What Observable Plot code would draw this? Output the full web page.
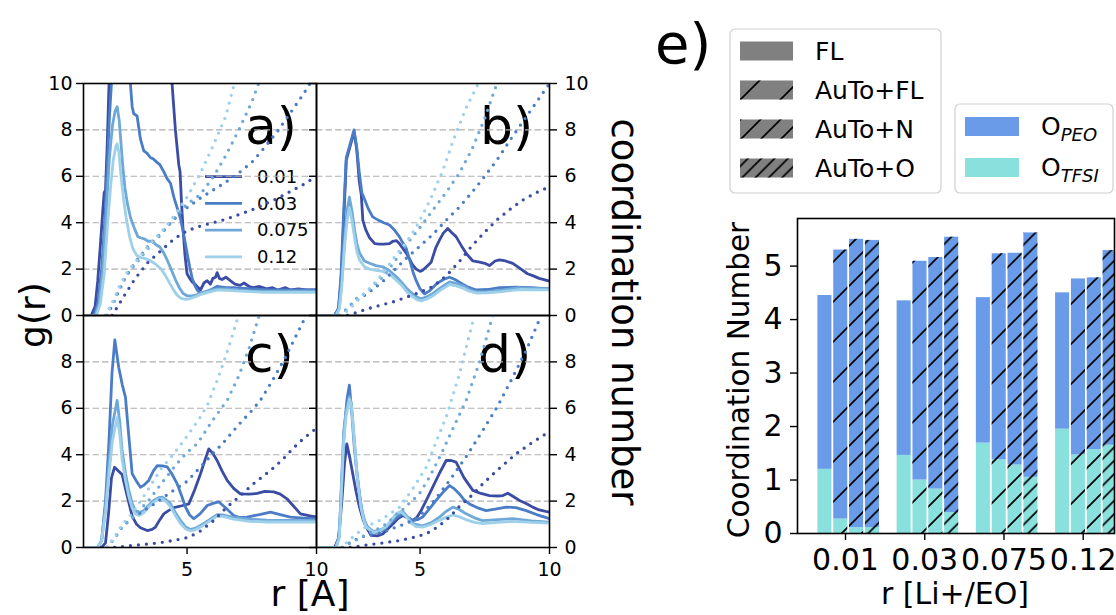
<!DOCTYPE html>
<html><head><meta charset="utf-8">
<script src="https://cdn.jsdelivr.net/npm/d3@7"></script>
<script src="https://cdn.jsdelivr.net/npm/@observablehq/plot@0.6"></script>
<style>
html,body{margin:0;padding:0;background:#fff;}
#root{position:relative;width:1116px;height:615px;overflow:hidden;font-family:"DejaVu Sans",sans-serif;}
</style></head><body><div id="root"></div>
<script>
// ---------- data ----------
const concs = ["0.01", "0.03", "0.075", "0.12"];

// g(r) curves, [r, g] pairs, one list per concentration
const gA = [
  [[1,0],[1.3,0],[1.45,0.4],[1.55,1.5],[1.65,3],[1.75,4.6],[1.8,5.3],[1.85,5.4],[1.92,7.5],[2.0,10.5],[2.1,14],[4.3,14],[4.42,10],[4.55,8],[4.68,6.5],[4.73,6.2],[4.78,5],[4.84,3.8],[4.92,2.6],[5.0,1.8],[5.1,1.6],[5.2,1.45],[5.35,1.3],[5.52,1.1],[5.65,1.4],[5.78,1.5],[5.9,1.35],[6.0,1.6],[6.1,1.65],[6.16,1.85],[6.25,1.6],[6.35,1.55],[6.5,1.65],[6.67,1.5],[6.85,1.35],[7.05,1.3],[7.2,1.4],[7.4,1.25],[7.56,1.2],[7.8,1.25],[8.08,1.15],[8.3,1.2],[8.5,1.1],[8.8,1.2],[9.0,1.1],[9.3,1.15],[9.6,1.1],[10,1.1]],
  [[1,0],[1.4,0],[1.55,0.5],[1.7,2],[1.82,4],[1.92,6.5],[2.0,8.5],[2.08,10],[2.15,12],[2.7,12],[2.81,10],[2.88,9.0],[2.94,8.7],[3.07,8.6],[3.2,7.6],[3.33,7.1],[3.45,7.0],[3.59,6.8],[3.7,6.75],[3.84,6.6],[3.95,6.5],[4.1,6.2],[4.23,5.9],[4.36,5.7],[4.49,5.1],[4.6,4.7],[4.74,4.2],[4.87,3.5],[5.0,2.7],[5.1,2.1],[5.2,1.6],[5.3,1.3],[5.39,1.1],[5.52,0.95],[5.64,0.95],[5.9,1.1],[6.16,1.25],[6.5,1.2],[6.8,1.2],[7.5,1.15],[8.09,1.1],[9,1.1],[10,1.1]],
  [[1,0],[1.45,0],[1.6,0.5],[1.75,2],[1.88,4.5],[2.0,6.8],[2.12,8.2],[2.22,8.8],[2.3,9.0],[2.38,8.4],[2.45,7.4],[2.52,6.4],[2.6,5.5],[2.7,4.8],[2.82,4.2],[2.95,3.8],[3.1,3.4],[3.2,3.35],[3.35,3.3],[3.5,3.2],[3.65,3.2],[3.8,3.05],[3.95,2.95],[4.1,2.7],[4.25,2.35],[4.4,1.95],[4.55,1.55],[4.7,1.2],[4.85,0.95],[5.0,0.85],[5.2,0.85],[5.4,0.9],[5.6,1.0],[5.9,1.1],[6.2,1.15],[6.6,1.15],[7,1.1],[7.5,1.05],[8,1.05],[9,1.05],[10,1.05]],
  [[1,0],[1.5,0],[1.65,0.5],[1.8,1.8],[1.92,3.8],[2.05,5.6],[2.15,6.7],[2.25,7.3],[2.3,7.4],[2.37,7.0],[2.45,6.0],[2.55,5.0],[2.65,4.2],[2.78,3.4],[2.9,2.9],[3.05,2.6],[3.2,2.5],[3.4,2.45],[3.6,2.35],[3.8,2.2],[4.0,2.0],[4.15,1.75],[4.3,1.45],[4.45,1.15],[4.6,0.9],[4.75,0.75],[4.9,0.7],[5.1,0.72],[5.3,0.8],[5.5,0.9],[5.8,1.0],[6.2,1.1],[6.6,1.08],[7,1.05],[8,1.0],[9,1.0],[10,1.0]]
];
const gB = [
  [[1,0],[1.7,0],[1.85,0.3],[1.95,1.5],[2.05,4],[2.15,6.7],[2.3,7.3],[2.45,7.9],[2.55,7.2],[2.65,5.8],[2.73,5.2],[2.79,4.1],[2.9,3.7],[3.05,3.35],[3.25,3.1],[3.43,3.08],[3.6,3.08],[3.82,3.1],[3.95,3.2],[4.08,3.23],[4.2,3.1],[4.33,2.9],[4.46,2.7],[4.59,2.45],[4.7,2.2],[4.85,2.0],[5.0,1.9],[5.1,1.95],[5.25,2.1],[5.43,2.3],[5.6,2.9],[5.75,3.25],[5.9,3.55],[6.07,3.75],[6.2,3.6],[6.39,3.4],[6.6,3.0],[6.8,2.65],[7.04,2.35],[7.3,2.3],[7.5,2.25],[7.68,2.15],[7.9,2.35],[8.07,2.4],[8.3,2.35],[8.58,2.25],[8.9,2.0],[9.15,1.8],[9.35,1.72],[9.6,1.6],[10,1.48]],
  [[1,0],[1.7,0],[1.85,0.3],[1.95,1.8],[2.05,4.5],[2.15,6.8],[2.3,7.4],[2.45,8.0],[2.55,7.3],[2.65,6.2],[2.75,5.3],[2.86,5.0],[3.0,4.6],[3.17,4.25],[3.4,4.1],[3.6,4.0],[3.82,3.9],[4.0,3.7],[4.2,3.4],[4.35,3.1],[4.46,2.9],[4.6,2.4],[4.72,1.9],[4.85,1.5],[5.0,1.15],[5.17,0.93],[5.35,1.05],[5.62,1.35],[5.9,1.55],[6.14,1.65],[6.35,1.55],[6.52,1.44],[6.8,1.25],[7.17,1.1],[7.6,1.12],[8.07,1.2],[8.71,1.22],[9.3,1.2],[10,1.15]],
  [[1,0],[1.75,0],[1.88,0.3],[1.98,1.5],[2.08,3.2],[2.18,4.5],[2.27,5.1],[2.37,4.5],[2.47,3.7],[2.56,3.1],[2.66,2.7],[2.85,2.35],[3.05,2.25],[3.3,2.15],[3.56,2.1],[3.8,1.95],[3.95,1.8],[4.15,1.6],[4.33,1.37],[4.5,1.15],[4.72,0.93],[4.9,0.78],[5.04,0.72],[5.25,0.8],[5.5,0.95],[5.8,1.2],[6.14,1.45],[6.4,1.38],[6.66,1.28],[6.9,1.12],[7.17,1.02],[7.6,1.03],[8.07,1.08],[8.84,1.2],[10,1.15]],
  [[1,0],[1.75,0],[1.88,0.3],[1.98,1.3],[2.08,2.9],[2.18,4.1],[2.27,4.65],[2.37,4.1],[2.47,3.35],[2.56,2.75],[2.66,2.4],[2.85,2.1],[3.05,2.0],[3.3,1.95],[3.56,1.9],[3.8,1.78],[3.95,1.65],[4.15,1.45],[4.33,1.25],[4.5,1.0],[4.72,0.8],[4.9,0.67],[5.04,0.63],[5.25,0.7],[5.5,0.85],[5.8,1.1],[6.14,1.33],[6.4,1.28],[6.66,1.18],[6.9,1.05],[7.17,0.97],[7.6,0.98],[8.07,1.02],[8.84,1.12],[10,1.1]]
];
const gC = [
  [[1,0],[1.7,0],[1.85,0.2],[1.97,1.5],[2.08,3.0],[2.2,3.46],[2.35,3.3],[2.49,3.15],[2.65,2.4],[2.88,1.35],[3.05,1.0],[3.2,0.85],[3.46,0.73],[3.65,0.78],[3.78,0.88],[3.95,1.2],[4.1,1.45],[4.3,1.6],[4.49,1.72],[4.8,1.8],[5.07,1.88],[5.3,2.5],[5.52,3.18],[5.7,3.8],[5.84,4.25],[6.0,4.05],[6.16,3.75],[6.35,3.3],[6.55,2.89],[6.8,2.55],[7.06,2.31],[7.4,2.3],[7.71,2.33],[8.0,2.42],[8.35,2.4],[8.6,2.3],[8.86,2.1],[9.1,1.8],[9.38,1.45],[9.7,1.37],[10,1.31]],
  [[1,0],[1.55,0],[1.7,0.3],[1.85,2.0],[1.98,4.5],[2.1,7.5],[2.21,8.95],[2.36,7.77],[2.5,7.0],[2.62,6.48],[2.75,4.8],[2.88,3.18],[3.05,2.85],[3.2,2.6],[3.35,2.7],[3.52,2.89],[3.7,3.3],[3.85,3.53],[4.05,3.52],[4.23,3.48],[4.4,3.2],[4.62,2.74],[4.8,2.2],[4.94,1.74],[5.1,1.4],[5.26,1.24],[5.5,1.45],[5.78,1.81],[6.0,1.9],[6.22,1.97],[6.5,1.7],[6.8,1.38],[7.0,1.3],[7.32,1.31],[7.8,1.42],[8.22,1.52],[8.6,1.42],[8.99,1.31],[9.5,1.27],[10,1.24]],
  [[1,0],[1.55,0],[1.7,0.3],[1.85,1.8],[1.98,3.6],[2.12,5.3],[2.3,6.34],[2.4,5.4],[2.49,4.18],[2.62,3.2],[2.75,2.46],[2.88,1.9],[3.0,1.59],[3.15,1.5],[3.33,1.59],[3.5,1.8],[3.71,2.03],[3.9,2.15],[4.04,2.17],[4.2,2.05],[4.36,1.88],[4.55,1.5],[4.75,1.16],[4.95,0.88],[5.13,0.78],[5.3,0.82],[5.52,0.95],[5.8,1.15],[6.16,1.42],[6.4,1.4],[6.8,1.3],[7.4,1.22],[8.09,1.18],[9,1.17],[10,1.16]],
  [[1,0],[1.55,0],[1.7,0.3],[1.85,1.5],[1.98,3.1],[2.12,4.6],[2.3,5.6],[2.4,4.9],[2.49,3.8],[2.62,2.9],[2.75,2.2],[2.88,1.7],[3.0,1.45],[3.15,1.38],[3.33,1.5],[3.5,1.72],[3.71,1.95],[3.9,2.08],[4.04,2.1],[4.2,1.97],[4.36,1.75],[4.55,1.38],[4.75,1.02],[4.95,0.8],[5.13,0.72],[5.3,0.76],[5.52,0.88],[5.8,1.08],[6.16,1.35],[6.4,1.33],[6.8,1.22],[7.4,1.13],[8.09,1.1],[9,1.1],[10,1.1]]
];
const gD = [
  [[1,0],[1.7,0],[1.85,0.4],[1.98,2.0],[2.08,3.6],[2.17,4.47],[2.28,3.9],[2.4,3.18],[2.53,2.4],[2.66,1.74],[2.8,1.2],[2.92,0.88],[3.11,0.52],[3.35,0.5],[3.56,0.58],[3.75,0.8],[3.95,1.01],[4.15,1.25],[4.33,1.38],[4.5,1.3],[4.72,1.16],[4.88,1.3],[5.04,1.59],[5.25,2.05],[5.49,2.6],[5.75,3.2],[6.01,3.75],[6.2,3.75],[6.39,3.68],[6.7,3.0],[7.04,2.46],[7.35,2.33],[7.68,2.24],[8.0,2.22],[8.2,2.24],[8.39,2.34],[8.6,2.2],[8.84,2.03],[9.1,1.9],[9.35,1.74],[9.6,1.62],[10,1.52]],
  [[1,0],[1.75,0],[1.88,0.5],[1.98,3.0],[2.08,5.2],[2.18,6.4],[2.27,7.0],[2.37,5.7],[2.47,4.18],[2.56,3.2],[2.66,2.31],[2.75,1.6],[2.85,1.16],[2.98,0.85],[3.11,0.66],[3.35,0.65],[3.56,0.73],[3.75,0.93],[3.95,1.16],[4.15,1.32],[4.33,1.45],[4.5,1.3],[4.72,1.16],[4.9,1.2],[5.1,1.31],[5.35,1.65],[5.62,2.03],[5.9,2.4],[6.14,2.67],[6.3,2.55],[6.52,2.31],[6.7,2.05],[6.91,1.88],[7.2,1.72],[7.55,1.59],[7.9,1.65],[8.33,1.74],[8.7,1.72],[9.1,1.59],[9.5,1.42],[10,1.24]],
  [[1,0],[1.75,0],[1.88,0.5],[1.98,3.2],[2.05,5.0],[2.15,5.9],[2.27,6.5],[2.35,6.2],[2.45,4.8],[2.55,3.4],[2.65,2.4],[2.72,1.8],[2.82,1.3],[2.92,0.95],[3.18,0.7],[3.45,0.75],[3.69,0.88],[3.9,1.15],[4.07,1.4],[4.33,1.55],[4.5,1.35],[4.65,1.12],[4.78,1.01],[5.1,0.93],[5.4,1.05],[5.75,1.31],[6.0,1.55],[6.27,1.74],[6.5,1.65],[6.78,1.45],[7.1,1.28],[7.42,1.16],[8.0,1.2],[8.58,1.24],[9.3,1.15],[10,1.09]],
  [[1,0],[1.75,0],[1.88,0.4],[1.98,2.8],[2.05,4.6],[2.15,5.7],[2.27,6.4],[2.35,6.1],[2.45,4.7],[2.55,3.3],[2.65,2.3],[2.72,1.7],[2.82,1.2],[2.92,0.88],[3.18,0.65],[3.45,0.72],[3.69,0.9],[3.9,1.2],[4.07,1.45],[4.25,1.55],[4.45,1.35],[4.65,1.05],[4.85,0.9],[5.1,0.88],[5.4,0.98],[5.75,1.18],[6.0,1.3],[6.27,1.4],[6.5,1.33],[6.78,1.2],[7.1,1.08],[7.42,1.03],[8.0,1.08],[8.58,1.13],[9.3,1.08],[10,1.05]]
];

// coordination number curves (right axis), [r, n] pairs
const cA = [
  [[2.1,0],[2.3,0.35],[2.6,0.9],[3.0,1.6],[3.5,2.3],[4.0,2.8],[4.5,3.3],[5.0,3.65],[5.5,3.85],[6,4.0],[6.5,4.15],[7,4.35],[7.5,4.55],[8,4.8],[8.5,5.05],[9,5.35],[9.5,5.65],[10,6.0]],
  [[1.9,0],[2.1,0.4],[2.3,0.9],[2.6,1.6],[3.0,2.3],[3.5,3.0],[4.0,3.55],[4.5,4.15],[5,4.65],[5.5,5.05],[6,5.4],[6.5,5.75],[7,6.15],[7.5,6.6],[8,7.25],[8.5,7.95],[9,8.75],[9.5,9.55],[9.8,10.1]],
  [[1.85,0],[2.1,0.5],[2.4,1.2],[2.7,1.8],[3.0,2.2],[3.5,2.9],[4.0,3.5],[4.5,4.2],[5.0,4.8],[5.5,5.2],[6,5.95],[6.5,6.9],[7,8.0],[7.5,9.2],[7.8,10.1]],
  [[1.85,0],[2.1,0.5],[2.4,1.3],[2.7,1.9],[3.0,2.3],[3.5,3.0],[4.0,3.6],[4.5,4.3],[5.0,5.1],[5.5,6.1],[6,7.3],[6.5,8.6],[6.85,10.1]]
];
const cB = [
  [[2.2,0],[2.6,0.15],[3.0,0.3],[3.5,0.45],[4.0,0.6],[4.5,0.8],[5.0,1.0],[5.5,1.25],[6.0,1.7],[6.5,2.3],[7.0,3.0],[7.5,3.6],[8.0,4.15],[8.5,4.6],[9.0,5.0],[9.5,5.3],[10,5.55]],
  [[1.9,0],[2.2,0.3],[2.5,0.6],[2.9,0.9],[3.5,1.4],[4.0,1.95],[4.5,2.5],[5.0,3.0],[5.5,3.5],[6.0,4.1],[6.5,4.65],[7.0,5.3],[7.5,6.0],[8.0,6.75],[8.5,7.6],[9.0,8.4],[9.5,9.2],[10,10.0]],
  [[1.9,0],[2.2,0.3],[2.5,0.7],[2.92,1.0],[3.5,1.6],[4.0,2.3],[4.5,3.1],[5.0,3.8],[5.5,4.55],[6.0,5.3],[6.5,6.1],[7.0,7.15],[7.5,8.5],[8.0,10.1]],
  [[1.9,0],[2.27,0.25],[2.6,0.7],[3.0,1.1],[3.56,1.8],[4.0,2.5],[4.5,3.2],[4.85,3.8],[5.4,5.0],[5.88,6.25],[6.3,7.6],[6.8,9.0],[7.3,10.1]]
];
const cC = [
  [[2.2,0],[2.8,0.08],[3.5,0.15],[4.1,0.23],[4.6,0.33],[5.07,0.44],[5.5,0.7],[6.03,1.16],[6.5,1.7],[7.06,2.24],[7.6,2.78],[8.22,3.32],[8.7,3.8],[9.12,4.3],[9.5,4.7],[10,5.15]],
  [[1.9,0],[2.2,0.4],[2.5,0.9],[2.81,1.2],[3.2,1.5],[3.7,1.85],[4.2,2.25],[4.6,2.55],[5.0,2.85],[5.5,3.45],[6.0,4.05],[6.42,4.54],[7.0,5.3],[7.5,5.9],[7.83,6.34],[8.3,7.2],[8.8,8.2],[9.2,9.1],[9.6,10.0]],
  [[1.9,0],[2.2,0.4],[2.5,0.9],[2.9,1.3],[3.5,2.0],[4.1,2.89],[4.6,3.6],[5.0,4.1],[5.39,4.47],[6.0,5.5],[6.55,6.34],[7.0,7.4],[7.4,8.6],[7.8,10.05]],
  [[1.9,0],[2.2,0.45],[2.5,1.0],[2.9,1.5],[3.5,2.5],[4.0,3.4],[4.49,4.04],[5.0,4.8],[5.5,5.6],[5.78,6.12],[6.2,7.3],[6.6,8.6],[7.0,10.05]]
];
const cD = [
  [[2.3,0],[3.0,0.12],[3.6,0.2],[4.2,0.3],[4.7,0.42],[5.24,0.59],[5.7,0.9],[6.14,1.31],[6.5,1.75],[7.0,2.25],[7.42,2.74],[8.0,3.35],[8.71,4.04],[9.3,4.5],[10,5.0]],
  [[2.0,0],[2.27,0.2],[2.7,0.45],[3.1,0.55],[3.56,0.65],[4.0,0.85],[4.5,1.05],[4.97,1.35],[5.5,1.95],[6.14,2.89],[6.8,3.95],[7.42,5.04],[8.0,6.1],[8.58,7.34],[9.1,8.5],[9.68,10.0]],
  [[2.0,0],[2.4,0.25],[3.0,0.6],[3.56,0.9],[4.2,1.5],[4.97,2.31],[5.4,3.1],[5.88,4.18],[6.3,5.2],[6.78,6.34],[7.3,8.0],[7.81,10.0]],
  [[1.9,0],[2.15,0.2],[2.5,0.55],[2.92,0.9],[3.5,1.2],[4.2,1.73],[4.7,2.5],[5.24,3.46],[5.6,4.5],[6.01,5.62],[6.5,7.4],[7.1,10.0]]
];

// panel e: stacked coordination numbers
const barTypes = ["FL", "AuTo+FL", "AuTo+N", "AuTo+O"];
const cnTotal = [[4.45,5.30,5.50,5.48],[4.35,5.09,5.16,5.54],[4.41,5.23,5.24,5.62],[4.50,4.76,4.78,5.29]];
const cnTFSI  = [[1.20,0.27,0.11,0.11],[1.46,1.00,0.83,0.39],[1.69,1.38,1.28,1.05],[1.95,1.47,1.57,1.65]];
const oLabels = [["O","PEO"],["O","TFSI"]];

// ---------- styling ----------
const lineColors = ["#3a4ca3", "#4a7dc6", "#6ea8d8", "#9ed0ea"];
const peoColor = "#6a9be8", tfsiColor = "#8ae0dc", legendGray = "#808080";
const hatchSpacing = [0, 40, 20, 13.33];
const hatchKeys = ["", "#010101", "#020202", "#030303"];
const barOffsets = [-0.26, -0.06, 0.14, 0.34], barWidth = 0.2;
const FONT = "DejaVu Sans";
const root = document.getElementById("root");

// ---------- overlay (texts, legends, hatch defs) ----------
const ov = d3.select(root).append("svg")
  .attr("width", 1116).attr("height", 615)
  .style("position", "absolute").style("left", "0px").style("top", "0px")
  .attr("font-family", FONT);
const defs = ov.append("defs");
for (let t = 1; t <= 3; t++) {
  const s = hatchSpacing[t];
  const p = defs.append("pattern").attr("id", "hatch" + t)
    .attr("patternUnits", "userSpaceOnUse").attr("width", s).attr("height", s);
  p.append("path")
    .attr("d", `M0,${s} L${s},0 M${-s/2},${s/2} L${s/2},${-s/2} M${s/2},${1.5*s} L${1.5*s},${s/2}`)
    .attr("stroke", "black").attr("stroke-width", 1.7).attr("fill", "none");
}

function txt(x, y, s, size, opts = {}) {
  const t = ov.append("text").attr("x", x).attr("y", y).attr("font-size", size)
    .attr("text-anchor", opts.anchor || "start").attr("fill", "black").text(s);
  if (opts.dy) t.attr("dy", opts.dy);
  if (opts.rotate != null) t.attr("transform", `rotate(${opts.rotate},${x},${y})`);
  return t;
}
txt(32, 315, "g(r)", 36, {anchor: "middle", dy: "0.35em", rotate: -90});
txt(310, 606, "r [A]", 36, {anchor: "middle"});
txt(625, 312, "coordination number", 37, {anchor: "middle", dy: "0.35em", rotate: 90});
txt(245, 144, "a)", 52); txt(480, 144, "b)", 52);
txt(245, 372, "c)", 52); txt(478, 372, "d)", 52);
txt(655, 63, "e)", 56);
txt(739, 380, "Coordination Number", 29.5, {anchor: "middle", dy: "0.35em", rotate: -90});
txt(955, 604, "r [Li+/EO]", 30, {anchor: "middle"});

// legend of panel a
concs.forEach((c, i) => {
  const y = 176.7 + i * 26.7;
  ov.append("line").attr("x1", 205).attr("x2", 242).attr("y1", y).attr("y2", y)
    .attr("stroke", lineColors[i]).attr("stroke-width", 2.8);
  txt(257, y, c, 18, {dy: "0.35em"});
});

// legend 1 of panel e (hatches)
ov.append("rect").attr("x", 730).attr("y", 29).attr("width", 211).attr("height", 164)
  .attr("rx", 5).attr("fill", "white").attr("stroke", "#d0d0d0").attr("stroke-width", 1.2);
barTypes.forEach((b, i) => {
  const cy = 51 + i * 39;
  ov.append("rect").attr("x", 740).attr("y", cy - 9.5).attr("width", 53).attr("height", 19).attr("fill", legendGray);
  if (i > 0) ov.append("rect").attr("x", 740).attr("y", cy - 9.5).attr("width", 53).attr("height", 19).attr("fill", `url(#hatch${i})`);
  txt(815, cy, b, 25, {dy: "0.35em"});
});
// legend 2 of panel e (colors)
ov.append("rect").attr("x", 955).attr("y", 104).attr("width", 158).attr("height", 89)
  .attr("rx", 5).attr("fill", "white").attr("stroke", "#d0d0d0").attr("stroke-width", 1.2);
[peoColor, tfsiColor].forEach((col, i) => {
  const cy = 126.5 + i * 41;
  ov.append("rect").attr("x", 965).attr("y", cy - 9.5).attr("width", 54).attr("height", 19).attr("fill", col);
  const t = txt(1041, cy, oLabels[i][0], 25, {dy: "0.35em"});
  t.append("tspan").attr("font-size", 18).attr("font-style", "italic").attr("dy", 6).text(oLabels[i][1]);
});

// ---------- g(r) panels ----------
function place(svg, left, top) {
  svg.style.position = "absolute";
  svg.style.left = left + "px";
  svg.style.top = top + "px";
  root.appendChild(svg);
}
const PW = 233, PH = 232;
const fmt = d => String(d);
function panel(g, c, {left, top, leftTicks, rightTicks, bottom}) {
  const marks = [Plot.gridY({ticks: [2, 4, 6, 8], stroke: "#b0b0b0", strokeOpacity: 1, strokeWidth: 1.1, strokeDasharray: "6.5,3"})];
  g.forEach((pts, i) => marks.push(Plot.line(pts, {x: d => d[0], y: d => d[1], stroke: lineColors[i], strokeWidth: 2.8, clip: true})));
  c.forEach((pts, i) => marks.push(Plot.line(pts, {x: d => d[0], y: d => d[1], stroke: lineColors[i], strokeWidth: 3.3, strokeDasharray: "0,8", strokeLinecap: "round", clip: true})));
  marks.push(Plot.frame({stroke: "black", strokeWidth: 1.6}));
  if (leftTicks) marks.push(Plot.axisY({anchor: "left", ticks: leftTicks, tickFormat: fmt, tickSize: 7, tickPadding: 4, strokeWidth: 1.4, fontSize: 19, label: null}));
  else marks.push(Plot.axisY({anchor: "left", ticks: [0,2,4,6,8,10], tickSize: 7, tickFormat: () => "", strokeWidth: 1.4, label: null}));
  if (rightTicks) marks.push(Plot.axisY({anchor: "right", ticks: rightTicks, tickFormat: fmt, tickSize: 7, tickPadding: 8, strokeWidth: 1.4, fontSize: 19, label: null}));
  if (bottom) marks.push(Plot.axisX({anchor: "bottom", ticks: [5, 10], tickFormat: fmt, tickSize: 7, tickPadding: 8, strokeWidth: 1.4, fontSize: 19, label: null}));
  const svg = Plot.plot({
    width: PW, height: PH, marginTop: 0, marginRight: 0, marginBottom: 0, marginLeft: 0,
    x: {domain: [1, 10], axis: bottom ? undefined : null},
    y: {domain: [0, 10]},
    style: {overflow: "visible", fontFamily: FONT, fontSize: "19px", background: "transparent"},
    marks
  });
  place(svg, left, top);
}
panel(gA, cA, {left: 83, top: 83, leftTicks: [0,2,4,6,8,10]});
panel(gB, cB, {left: 316, top: 83, rightTicks: [0,2,4,6,8,10]});
panel(gC, cC, {left: 83, top: 315, leftTicks: [0,2,4,6,8], bottom: true});
panel(gD, cD, {left: 316, top: 315, rightTicks: [0,2,4,6,8], bottom: true});

// ---------- bar panel ----------
const rows = [];
concs.forEach((g, gi) => barTypes.forEach((b, ti) => {
  const xc = gi + barOffsets[ti];
  rows.push({x1: xc - barWidth / 2, x2: xc + barWidth / 2, y0: 0, tfsi: cnTFSI[gi][ti], total: cnTotal[gi][ti], ti});
}));
const barMarks = [
  Plot.rect(rows, {x1: "x1", x2: "x2", y1: "y0", y2: "tfsi", fill: tfsiColor, insetLeft: 0.9, insetRight: 0.9, clip: true}),
  Plot.rect(rows, {x1: "x1", x2: "x2", y1: "tfsi", y2: "total", fill: peoColor, insetLeft: 0.9, insetRight: 0.9, clip: true})
];
for (let t = 1; t <= 3; t++) {
  barMarks.push(Plot.rect(rows.filter(r => r.ti === t), {x1: "x1", x2: "x2", y1: "y0", y2: "total", fill: hatchKeys[t], insetLeft: 0.9, insetRight: 0.9, clip: true}));
}
barMarks.push(
  Plot.frame({stroke: "black", strokeWidth: 1.6}),
  Plot.axisY({anchor: "left", ticks: [0,1,2,3,4,5], tickFormat: fmt, tickSize: 7, tickPadding: 8, strokeWidth: 1.4, fontSize: 30, label: null}),
  Plot.axisX({anchor: "bottom", ticks: [0,1,2,3], tickFormat: i => concs[i], tickSize: 7, tickPadding: 8, strokeWidth: 1.4, fontSize: 30, label: null})
);
const barSvg = Plot.plot({
  width: 317, height: 315, marginTop: 0, marginRight: 0, marginBottom: 0, marginLeft: 0,
  x: {domain: [-0.606, 3.395]}, y: {domain: [0, 5.89]},
  style: {overflow: "visible", fontFamily: FONT, fontSize: "30px", background: "transparent"},
  marks: barMarks
});
// swap the key colours of the hatch layers for the hatch patterns
d3.select(barSvg).selectAll("[fill]").each(function () {
  const f = (this.getAttribute("fill") || "").toLowerCase();
  const t = hatchKeys.indexOf(f);
  if (t > 0) this.setAttribute("fill", `url(#hatch${t})`);
});
place(barSvg, 797, 218);
</script></body></html>
